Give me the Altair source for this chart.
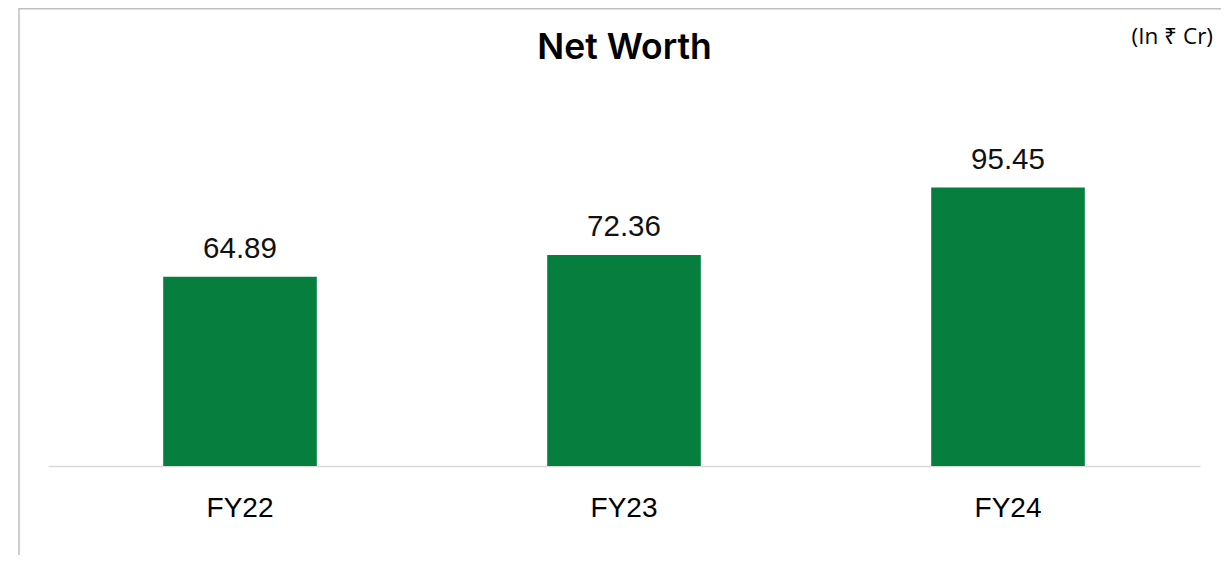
import altair as alt
import pandas as pd

years = ["FY22", "FY23", "FY24"]
net_worth = [64.89, 72.36, 95.45]
value_labels = ["64.89", "72.36", "95.45"]
chart_title = "Net Worth"
unit_note = "(In ₹ Cr)"

df = pd.DataFrame({"year": years, "value": net_worth, "label": value_labels})

W, H = 1152, 350

x = alt.X(
    "year:N",
    sort=years,
    scale=alt.Scale(paddingInner=0.6, paddingOuter=0.3),
    axis=alt.Axis(
        title=None, domainColor="#d9d9d9", domainWidth=1.5, ticks=False,
        labelAngle=0, labelFont="Liberation Sans", labelFontSize=28,
        labelColor="#000000", labelBaseline="alphabetic", labelPadding=50,
        grid=False,
    ),
)
y = alt.Y("value:Q", scale=alt.Scale(domain=[0, 120]), axis=None)

base = alt.Chart(df)
bars = base.mark_bar(color="#067F3E").encode(x=x, y=y)
vals = base.mark_text(
    baseline="alphabetic", dy=-19, font="Liberation Sans", fontSize=29.5, color="#111111"
).encode(x=x, y=y, text="label:N")

title = alt.Chart(pd.DataFrame({"t": [chart_title]})).mark_text(
    font="Inter", fontSize=35.5, fontWeight=600, baseline="alphabetic", align="center",
    color="#000000",
).encode(x=alt.value(576.5), y=alt.value(-57), text="t:N")

note = alt.Chart(pd.DataFrame({"t": [unit_note]})).mark_text(
    font="Open Sans", fontSize=22.5, baseline="alphabetic", align="right", color="#000000",
).encode(x=alt.value(1165), y=alt.value(-72), text="t:N")

border = alt.Chart(pd.DataFrame({"t": [0]})).mark_rect(
    fillOpacity=0, stroke="#bfbfbf", strokeWidth=1.5
).encode(x=alt.value(-29), x2=alt.value(1300), y=alt.value(-107.25), y2=alt.value(600))

chart = alt.layer(border, bars, vals, title, note).properties(
    width=W, height=H,
    autosize=alt.AutoSizeParams(type="none"),
    padding={"left": 40, "top": 108, "right": 21, "bottom": 89},
    background="white",
).configure_view(stroke=None)

chart.save("out.html", embed_options={"renderer": "svg", "actions": False})
